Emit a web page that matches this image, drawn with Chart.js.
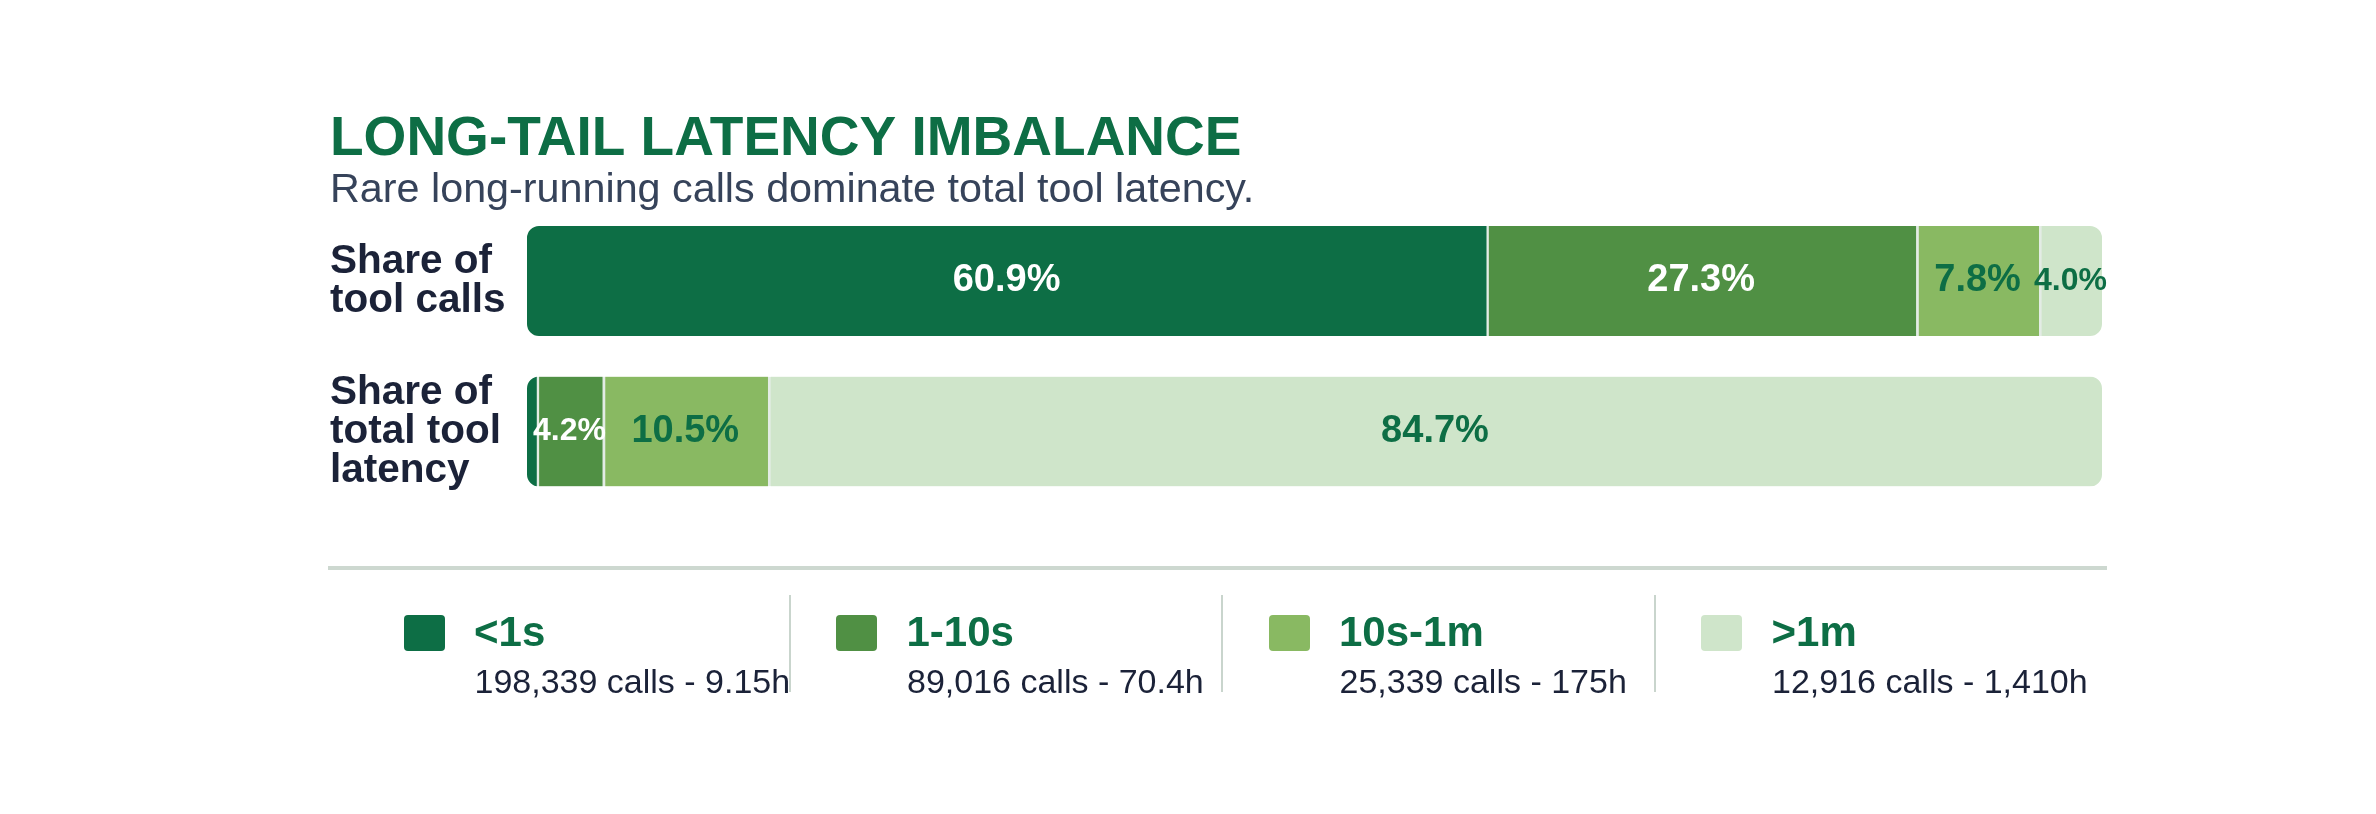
<!DOCTYPE html>
<html>
<head>
<meta charset="utf-8">
<script src="https://cdn.jsdelivr.net/npm/chart.js@4.4.1/dist/chart.umd.min.js"></script>
<style>
  html, body { margin: 0; padding: 0; background: #ffffff; }
  #wrap { position: relative; width: 2376px; height: 814px; overflow: hidden; background: #ffffff;
          font-family: "Liberation Sans", Arial, sans-serif; }
  #c { position: absolute; left: 0; top: 0; }
  #rule { position: absolute; left: 328px; top: 566px; width: 1779px; height: 4px; background: #cdd8d0; }
  .sep { position: absolute; top: 595px; width: 2px; height: 97px; background: #c9d5cd; }
  .sw { position: absolute; top: 615px; width: 41px; height: 36px; border-radius: 4px; }
  .lab { position: absolute; top: 610.5px; font-weight: bold; font-size: 42px; line-height: 42px; color: #0d6e45; white-space: nowrap; }
  .cap { position: absolute; top: 664px; font-size: 34px; line-height: 34px; color: #1b2238; white-space: nowrap; }
</style>
</head>
<body>
<div id="wrap">
  <canvas id="c" width="2376" height="814"></canvas>
  <div id="rule"></div>
  <div id="legend"></div>
</div>
<script>
// ---- data ----
const categories = ['<1s', '1-10s', '10s-1m', '>1m'];
const rowLabels = [['Share of', 'tool calls'], ['Share of', 'total tool', 'latency']];
const callShare = [60.9, 27.3, 7.8, 4.0];
const latencyShare = [0.6, 4.2, 10.5, 84.7];
const callCounts = [198339, 89016, 25339, 12916];
const latencyHours = [9.15, 70.4, 175, 1410];
const titleText = 'LONG-TAIL LATENCY IMBALANCE';
const subtitleText = 'Rare long-running calls dominate total tool latency.';

// ---- styles ----
const colors = ['#0d6e45', '#509044', '#89b962', '#cfe5ca'];
const labelColors = ['#ffffff', '#ffffff', '#0d6e45', '#0d6e45'];
const FONT = '"Liberation Sans", Arial, sans-serif';
Chart.defaults.font.family = FONT;

const datasets = categories.map((cat, i) => ({
  label: cat,
  data: [callShare[i], latencyShare[i]],
  backgroundColor: colors[i],
  borderColor: '#e3ece5',
  borderWidth: i === 0 ? 0 : { top: 0, right: 0, bottom: 0, left: 3 },
  borderSkipped: false,
  borderRadius: 0,
  barThickness: 110
}));

function roundedRectPath(ctx, x, y, w, h, r) {
  r = Math.min(r, w / 2, h / 2);
  ctx.moveTo(x + r, y);
  ctx.lineTo(x + w - r, y);
  ctx.arcTo(x + w, y, x + w, y + r, r);
  ctx.lineTo(x + w, y + h - r);
  ctx.arcTo(x + w, y + h, x + w - r, y + h, r);
  ctx.lineTo(x + r, y + h);
  ctx.arcTo(x, y + h, x, y + h - r, r);
  ctx.lineTo(x, y + r);
  ctx.arcTo(x, y, x + r, y, r);
  ctx.closePath();
}

const barPlugin = {
  id: 'barPlugin',
  beforeDatasetsDraw(chart) {
    const ctx = chart.ctx;
    const xs = chart.scales.x;
    const meta0 = chart.getDatasetMeta(0);
    ctx.save();
    ctx.beginPath();
    meta0.data.forEach((el, j) => {
      const total = chart.data.datasets.reduce((s, d) => s + d.data[j], 0);
      const left = xs.getPixelForValue(0);
      const right = xs.getPixelForValue(total);
      const p = el.getProps(['y', 'height'], true);
      roundedRectPath(ctx, left, p.y - p.height / 2, right - left, p.height, 12);
    });
    ctx.clip();
  },
  afterDatasetsDraw(chart) {
    const ctx = chart.ctx;
    ctx.restore();
    ctx.save();
    chart.data.datasets.forEach((ds, i) => {
      const meta = chart.getDatasetMeta(i);
      meta.data.forEach((el, j) => {
        const v = ds.data[j];
        if (v < 2) return;
        const p = el.getProps(['x', 'y', 'base'], true);
        const segW = Math.abs(p.x - p.base);
        const size = segW < 100 ? 32 : 38;
        ctx.font = 'bold ' + size + 'px ' + FONT;
        ctx.fillStyle = labelColors[i];
        ctx.textAlign = 'center';
        ctx.textBaseline = 'middle';
        ctx.fillText(v.toFixed(1) + '%', (p.x + p.base) / 2, p.y);
      });
    });
    ctx.restore();
  }
};

new Chart(document.getElementById('c'), {
  type: 'bar',
  data: { labels: rowLabels, datasets },
  options: {
    indexAxis: 'y',
    responsive: false,
    animation: false,
    devicePixelRatio: 1,
    layout: { padding: { top: 0, left: 330, right: 274, bottom: 307.25 } },
    scales: {
      x: { stacked: true, min: 0, max: 100, display: false },
      y: {
        stacked: true,
        grid: { display: false, drawTicks: false },
        border: { display: false },
        ticks: {
          crossAlign: 'far',
          padding: 0,
          color: '#1b2238',
          font: { size: 40.5, weight: 'bold', lineHeight: 0.963 }
        },
        afterFit(scale) { scale.width = 197; }
      }
    },
    plugins: {
      legend: { display: false },
      tooltip: { enabled: false },
      title: {
        display: true, text: titleText, align: 'start', color: '#0d6e45',
        font: { size: 55, weight: 'bold', lineHeight: 1 },
        padding: { top: 112.3, bottom: 0 }
      },
      subtitle: {
        display: true, text: subtitleText, align: 'start', color: '#36435a',
        font: { size: 41.3, weight: 'normal', lineHeight: 0.748 },
        padding: { top: 7.55, bottom: 0 }
      }
    }
  },
  plugins: [barPlugin]
});

// ---- legend (HTML) ----
const legend = document.getElementById('legend');
const colStart = 356.5, colWidth = 432.5;
const fmt = n => n.toLocaleString('en-US', { maximumFractionDigits: 2 });
categories.forEach((cat, i) => {
  const x0 = colStart + i * colWidth;
  if (i > 0) {
    const s = document.createElement('div');
    s.className = 'sep';
    s.style.left = (x0 - 0.5) + 'px';
    legend.appendChild(s);
  }
  const sw = document.createElement('div');
  sw.className = 'sw';
  sw.style.left = (x0 + 47) + 'px';
  sw.style.background = colors[i];
  legend.appendChild(sw);
  const lab = document.createElement('div');
  lab.className = 'lab';
  lab.style.left = (x0 + 117.5) + 'px';
  lab.textContent = cat;
  legend.appendChild(lab);
  const cap = document.createElement('div');
  cap.className = 'cap';
  cap.style.left = (x0 + 118) + 'px';
  cap.textContent = fmt(callCounts[i]) + ' calls - ' + fmt(latencyHours[i]) + 'h';
  legend.appendChild(cap);
});
</script>
</body>
</html>
